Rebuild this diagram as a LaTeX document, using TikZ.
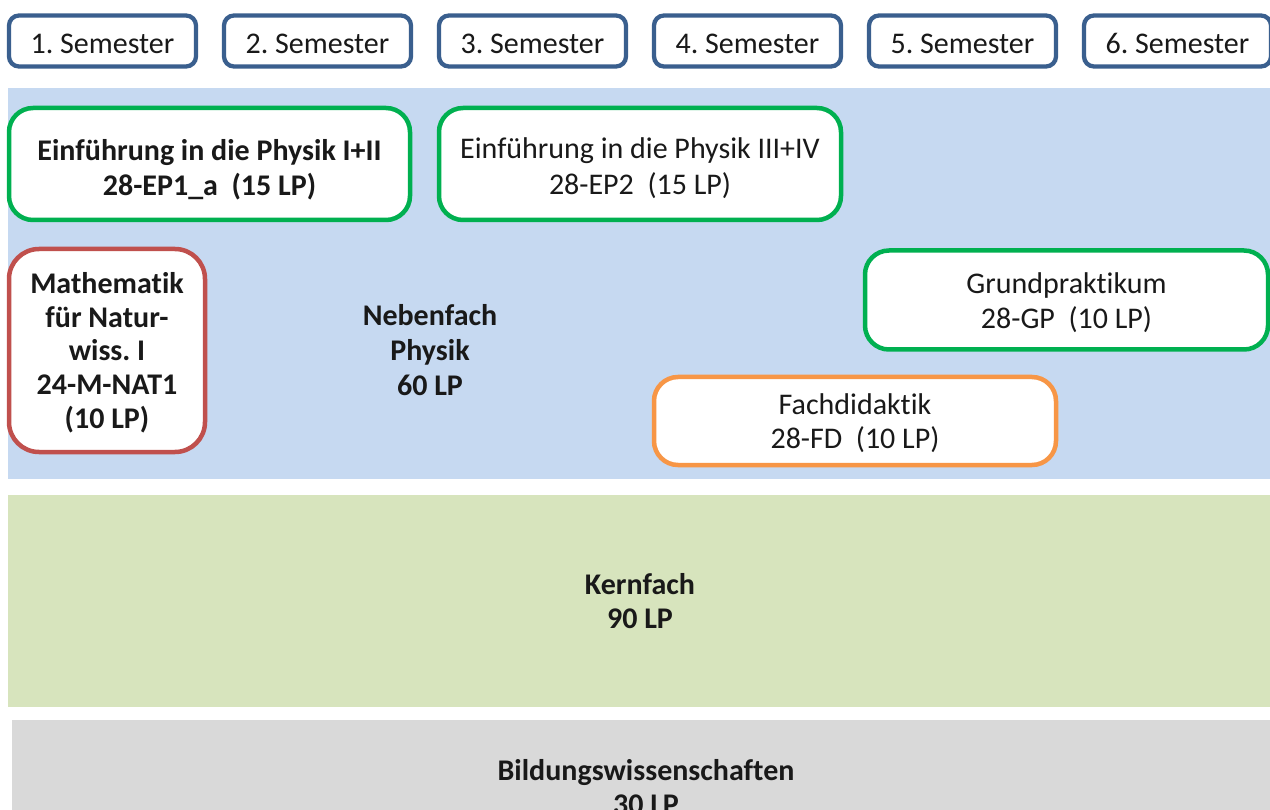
\documentclass[tikz,border=0pt]{standalone}
\usepackage{fontspec}
\setmainfont{Carlito}[Ligatures={NoCommon}]
\frenchspacing
\definecolor{semblue}{HTML}{3A5F8E}
\definecolor{bgblue}{HTML}{C6D9F1}
\definecolor{bggreen}{HTML}{D7E4BD}
\definecolor{bggray}{HTML}{D9D9D9}
\definecolor{modgreen}{HTML}{00B050}
\definecolor{modred}{HTML}{C0504D}
\definecolor{modorange}{HTML}{F79646}
\tikzset{
  base/.style={font=\fontsize{30}{35}\selectfont, align=center, inner sep=0pt, text=black!90},
  sembox/.style={base, draw=semblue, line width=4.3pt, fill=white, rounded corners=10pt, minimum width=187pt, minimum height=51pt, text height=26pt, text depth=0pt},
  modbox/.style={line width=4.5pt, fill=white, rounded corners=24pt, inner sep=0pt},
  modtext/.style={base},
  region/.style={base, font=\bfseries\fontsize{30}{34}\selectfont},
}
\begin{document}
\begin{tikzpicture}[x=1pt,y=-1pt]
\useasboundingbox (0,0) rectangle (1270,810);
\clip (0,0) rectangle (1270,810);
% semester headers
\foreach \i in {1,...,6}{
  \node[sembox] (sem\i) at ({102.5+215*(\i-1)},41) {\i. Semester};
}
% background regions
\fill[bgblue] (8,88) rectangle (1270,479);
\fill[bggreen] (8,495) rectangle (1270,707);
\fill[bggray] (12,720) rectangle (1270,810);
% module boxes
\node[modbox, draw=modgreen, minimum width=401pt, minimum height=112pt] (ep1) at (209.5,164) {};
\node[modbox, draw=modgreen, minimum width=402pt, minimum height=112pt] (ep2) at (640,164) {};
\node[modbox, draw=modred, rounded corners=30pt, minimum width=196pt, minimum height=203pt] (math) at (107,350.5) {};
\node[modbox, draw=modgreen, minimum width=403pt, minimum height=99pt] (gp) at (1066.5,300) {};
\node[modbox, draw=modorange, minimum width=402pt, minimum height=88pt] (fd) at (855,421) {};
% module texts
\node[modtext, font=\bfseries\fontsize{30}{35}\selectfont] (ep1t) at ([yshift=-6pt]ep1.center) {Einführung in die Physik I+II\\28-EP1\_a\ \ (15 LP)};
\node[modtext, font=\fontsize{30}{36}\selectfont] (ep2t) at ([yshift=-4.5pt]ep2.center) {Einführung in die Physik III+IV\\28-EP2\ \ (15 LP)};
\node[modtext, font=\bfseries\fontsize{30}{33.7}\selectfont] (matht) at ([yshift=-2pt]math.center) {Mathematik\\für Natur-\\wiss. I\\24-M-NAT1\\(10 LP)};
\node[modtext, font=\fontsize{30}{35}\selectfont] (gpt) at ([yshift=-3pt]gp.center) {Grundpraktikum\\28-GP\ \ (10 LP)};
\node[modtext, font=\fontsize{30}{33.5}\selectfont] (fdt) at ([yshift=-2pt]fd.center) {Fachdidaktik\\28-FD\ \ (10 LP)};
% region labels
\node[region, font=\bfseries\fontsize{30}{35}\selectfont] (neben) at (430,350) {Nebenfach\\Physik\\60 LP};
\node[region] (kern) at (640,601) {Kernfach\\90 LP};
\node[region] (bild) at (646,787) {Bildungswissenschaften\\30 LP};
\end{tikzpicture}
\end{document}
